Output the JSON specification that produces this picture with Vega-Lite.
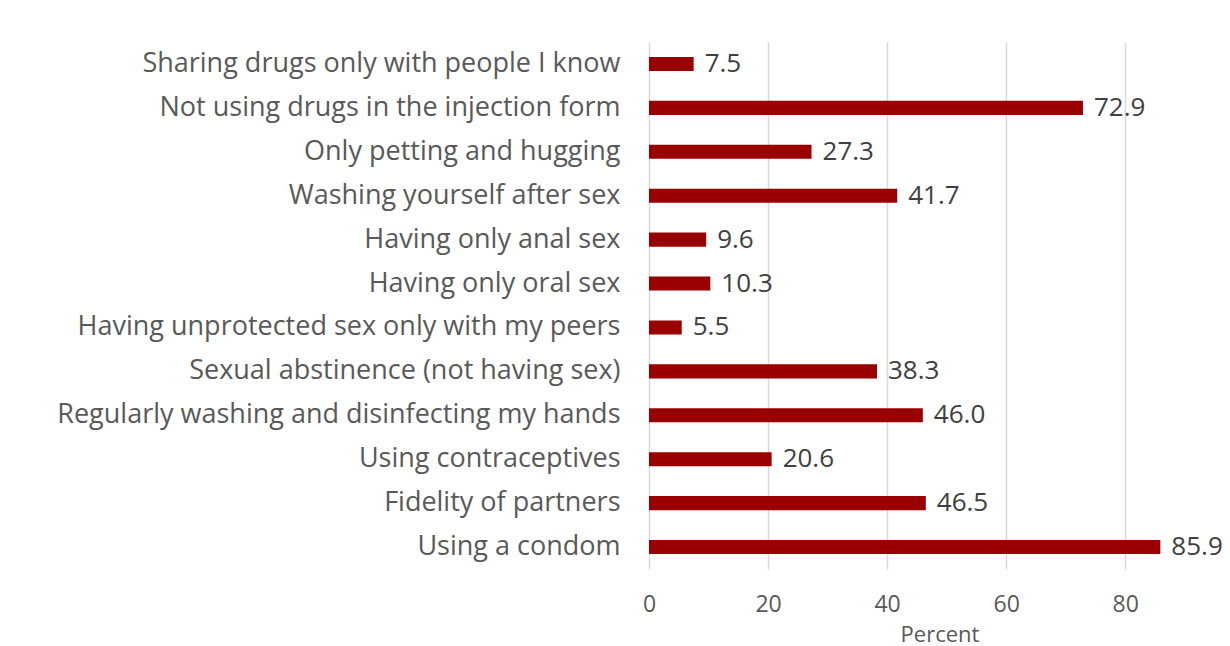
{
  "$schema": "https://vega.github.io/schema/vega-lite/v6.json",
  "autosize": "none",
  "width": 581,
  "height": 527,
  "padding": {"left": 649, "top": 42, "right": 0, "bottom": 77},
  "background": "white",
  "config": {"view": {"stroke": null}, "font": "Open Sans"},
  "data": {
    "values": [
      {"item": "Sharing drugs only with people I know", "pct": 7.5},
      {"item": "Not using drugs in the injection form", "pct": 72.9},
      {"item": "Only petting and hugging", "pct": 27.3},
      {"item": "Washing yourself after sex", "pct": 41.7},
      {"item": "Having only anal sex", "pct": 9.6},
      {"item": "Having only oral sex", "pct": 10.3},
      {"item": "Having unprotected sex only with my peers", "pct": 5.5},
      {"item": "Sexual abstinence (not having sex)", "pct": 38.3},
      {"item": "Regularly washing and disinfecting my hands", "pct": 46.0},
      {"item": "Using contraceptives", "pct": 20.6},
      {"item": "Fidelity of partners", "pct": 46.5},
      {"item": "Using a condom", "pct": 85.9}
    ]
  },
  "encoding": {
    "y": {
      "field": "item",
      "type": "nominal",
      "sort": null,
      "scale": {"paddingInner": 0.68, "paddingOuter": 0.34},
      "axis": {
        "title": null,
        "ticks": false,
        "domain": false,
        "grid": false,
        "labelFont": "Open Sans",
        "labelFontSize": 27,
        "labelColor": "#595959",
        "labelPadding": 29,
        "labelLimit": 700
      }
    },
    "x": {
      "field": "pct",
      "type": "quantitative",
      "scale": {"domain": [0, 97.6], "nice": false},
      "axis": {
        "title": "Percent",
        "titleFont": "Open Sans",
        "titleFontSize": 22,
        "titleFontWeight": "normal",
        "titleColor": "#595959",
        "titlePadding": 8,
        "values": [0, 20, 40, 60, 80],
        "labelFlush": false,
        "ticks": false,
        "domain": false,
        "grid": true,
        "gridColor": "#d9d9d9",
        "gridWidth": 1.5,
        "labelFont": "Open Sans",
        "labelFontSize": 23,
        "labelColor": "#595959",
        "labelPadding": 24
      }
    }
  },
  "layer": [
    {"mark": {"type": "bar", "color": "#990000"}},
    {
      "mark": {"type": "text", "align": "left", "baseline": "middle", "dx": 11, "font": "Open Sans", "fontSize": 26, "color": "#404040"},
      "encoding": {"text": {"field": "pct", "type": "quantitative", "format": ".1f"}}
    }
  ]
}
